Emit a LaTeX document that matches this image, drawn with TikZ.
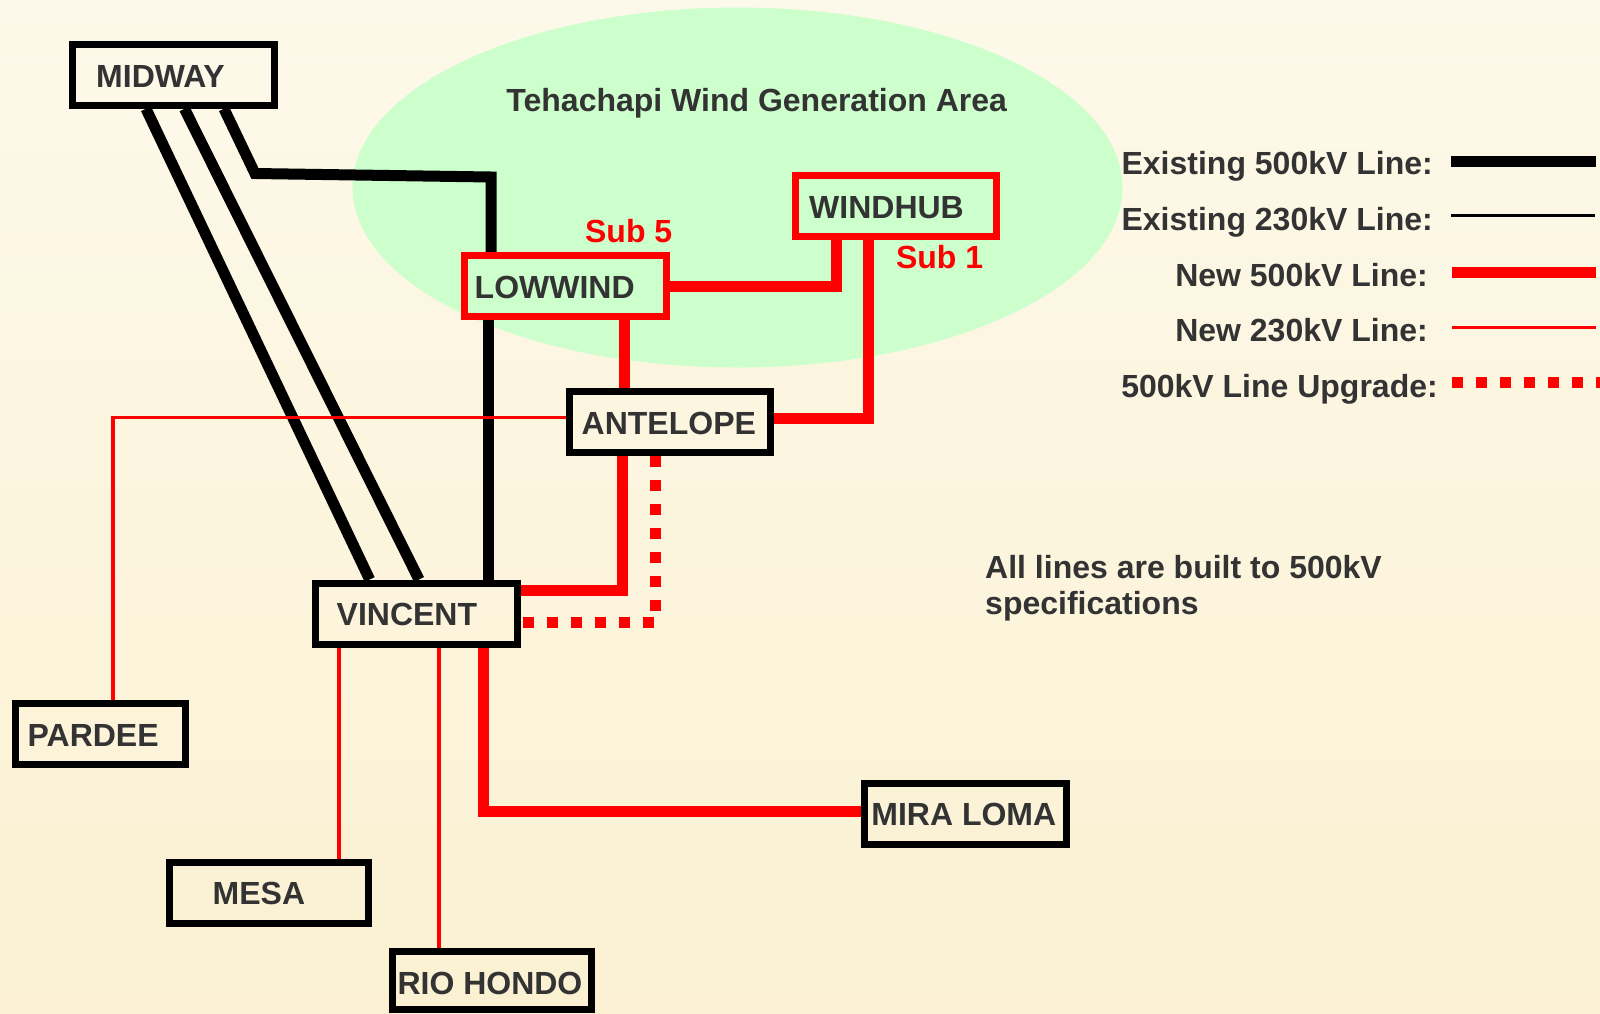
\documentclass[tikz,border=0pt]{standalone}
\usepackage{fontspec}
\setmainfont{Liberation Sans}
\usetikzlibrary{calc}
\definecolor{bgtop}{RGB}{253,249,234}
\definecolor{bgbot}{RGB}{251,241,210}
\definecolor{area}{RGB}{204,255,204}
\definecolor{txt}{RGB}{51,51,51}
\definecolor{rd}{RGB}{255,0,0}
\pgfdeclarelayer{bg}
\pgfdeclarelayer{lines}
\pgfsetlayers{bg,lines,main}
\tikzset{
  station/.style={draw=black, line width=7pt, minimum width=#1, minimum height=61pt, inner sep=0pt},
  newstation/.style={station=#1, draw=rd},
  lab/.style={font=\fontsize{32}{36}\selectfont\bfseries, text=txt, inner sep=0pt, anchor=base west},
  lablr/.style={lab, anchor=base east},
  redlab/.style={font=\fontsize{32}{36}\selectfont\bfseries, text=rd, inner sep=0pt, anchor=base},
  exist500/.style={line width=11pt, draw=black},
  exist230/.style={line width=3.5pt, draw=black},
  new500/.style={line width=11pt, draw=rd},
  new230/.style={line width=3.5pt, draw=rd},
  upgrade/.style={line width=11.5pt, draw=rd, dash pattern=on 11pt off 13pt}
}
\begin{document}
\begin{tikzpicture}[x=1pt,y=-1pt]
\useasboundingbox (0,0) rectangle (1600,1013);
\begin{pgfonlayer}{bg}
  \shade[top color=bgtop, bottom color=bgbot] (0,0) rectangle (1600,1013);
  \fill[area] (737.5,187.5) ellipse [x radius=385, y radius=180];
\end{pgfonlayer}

% stations
\node[station=202pt] (midway) at (173.5,74.75) {};
\node[newstation=201pt] (windhub) at (896,205.5) {};
\node[newstation=201.5pt] (lowwind) at (565.25,286) {};
\node[station=200.5pt] (antelope) at (669.75,422) {};
\node[station=201.5pt] (vincent) at (416.25,613.5) {};
\node[station=170pt] (pardee) at (100,733.5) {};
\node[station=199pt] (mesa) at (269,892.5) {};
\node[station=199pt, minimum height=57.5pt] (riohondo) at (491.5,980.25) {};
\node[station=201.5pt] (miraloma) at (965.25,814) {};

% station labels
\node[lab] (midway-t) at (96,87) {MIDWAY};
\node[lab] (windhub-t) at (809,218.2) {WINDHUB};
\node[lab] (lowwind-t) at (474.5,298.5) {LOWWIND};
\node[lab] (antelope-t) at (581.5,434) {ANTELOPE};
\node[lab] (vincent-t) at (336.5,625.8) {VINCENT};
\node[lab] (pardee-t) at (27.5,746.2) {PARDEE};
\node[lab] (mesa-t) at (212.5,904) {MESA};
\node[lab] (riohondo-t) at (397.3,994.3) {RIO HONDO};
\node[lab] (miraloma-t) at (871.2,825.8) {MIRA LOMA};
\node[redlab] (sub5) at (628.7,242.3) {Sub 5};
\node[redlab] (sub1) at (939.6,268.3) {Sub 1};
\node[lab, anchor=base] (area-t) at (756.7,111.5) {Tehachapi Wind Generation Area};
\node[lab, align=left, anchor=base west] (note) at (985,614) {All lines are built to 500kV\\specifications};

% legend
\node[lablr] (leg1) at (1433,174.8) {Existing 500kV Line:};
\node[lablr] (leg2) at (1433,230.5) {Existing 230kV Line:};
\node[lablr] (leg3) at (1428,286.2) {New 500kV Line:};
\node[lablr] (leg4) at (1428,341.8) {New 230kV Line:};
\node[lablr] (leg5) at (1438,397.8) {500kV Line Upgrade:};
\coordinate (l1a) at (1451,161.5); \coordinate (l1b) at (1596,161.5);
\coordinate (l2a) at (1451,215.3); \coordinate (l2b) at (1595,215.3);
\coordinate (l3a) at (1452,272.5); \coordinate (l3b) at (1596,272.5);
\coordinate (l4a) at (1452,327.5); \coordinate (l4b) at (1596,327.5);
\coordinate (l5a) at (1452.3,382.5); \coordinate (l5b) at (1600,382.5);
\draw[exist500] (l1a) -- (l1b);
\draw[exist230] (l2a) -- (l2b);
\draw[new500] (l3a) -- (l3b);
\draw[new230] (l4a) -- (l4b);
\draw[upgrade] (l5a) -- (l5b);

\begin{pgfonlayer}{lines}
  % existing 500 kV Midway - Vincent
  \draw[exist500] ([xshift=-27.5pt]midway.south) -- ([xshift=-46.6pt]vincent.north);
  \draw[exist500] ([xshift=11pt]midway.south) -- ([xshift=2.75pt]vincent.north);
  \coordinate (k1) at (255,173.5);
  \coordinate (k2) at (491,177);
  \draw[exist500, line join=miter] ([xshift=50.5pt]midway.south) -- (k1) -- (k2) -- (k2 |- lowwind.north);
  \draw[exist500] ([xshift=-76.75pt]lowwind.south) -- ([xshift=72.25pt]vincent.north);
  % new 500 kV
  \draw[new500] (lowwind.east) -| ([xshift=-59.5pt]windhub.south);
  \draw[new500] ([xshift=58.75pt]lowwind.south) -- ([xshift=-45.75pt]antelope.north);
  \draw[new500] ([xshift=-28pt]windhub.south) |- ([yshift=4pt]antelope.east);
  \draw[new500] ([xshift=-47.75pt]antelope.south) |- ([yshift=23.5pt]vincent.east);
  \draw[new500] ([xshift=66.75pt]vincent.south) |- ([yshift=3pt]miraloma.west);
  % upgrade
  \draw[upgrade] ([xshift=-14.25pt]antelope.south) |- ([yshift=-9pt]vincent.east);
  % new 230 kV
  \draw[new230] ([yshift=4.5pt]antelope.west) -| ([xshift=13pt]pardee.north);
  \draw[new230] ([xshift=-77.25pt]vincent.south) -- ([xshift=70pt]mesa.north);
  \draw[new230] ([xshift=22.75pt]vincent.south) -- ([xshift=-52.5pt]riohondo.north);
\end{pgfonlayer}
\end{tikzpicture}
\end{document}
